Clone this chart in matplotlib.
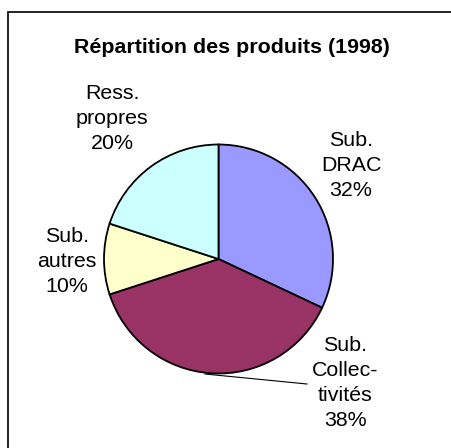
import matplotlib
matplotlib.use("Agg")
import matplotlib.pyplot as plt

title = "Répartition des produits (1998)"
labels = ["Sub.\nDRAC\n32%", "Sub.\nCollec-\ntivités\n38%", "Sub.\nautres\n10%", "Ress.\npropres\n20%"]
values = [32, 38, 10, 20]
colors = ["#9999FF", "#993366", "#FFFFCC", "#CCFFFF"]

plt.rcParams["font.family"] = ["Liberation Sans", "DejaVu Sans"]

W, H = 451, 448
fig = plt.figure(figsize=(W / 100, H / 100), dpi=100, facecolor="white")
ax = fig.add_axes([0, 0, 1, 1])

cx, cy, r = 218.5, H - 259, 114.5
ax.pie(values, colors=colors, startangle=90, counterclock=False,
       center=(cx, cy), radius=r,
       wedgeprops=dict(edgecolor="black", linewidth=1.3))
ax.set_xlim(0, W)
ax.set_ylim(0, H)
ax.set_aspect("auto")
ax.axis("off")

# frame (top and left edges visible)
ax.plot([8, 8, W + 5], [-5, H - 11.5, H - 11.5], color="black", lw=1.2,
        clip_on=False, solid_joinstyle="miter")

fs = 15.4
ax.text(232, H - 47, title, ha="center", va="center", fontsize=fs, fontweight="bold")

label_pos = [(351, H - 165), (345, H - 383), (67, H - 261), (112, H - 118)]
for lab, (x, y) in zip(labels, label_pos):
    ax.text(x, y, lab, ha="center", va="center", fontsize=fs, linespacing=1.4)

# leader line for Collectivités
ax.plot([205, 307], [H - 374, H - 384], color="black", lw=0.8)

fig.savefig("out.png", dpi=100, facecolor="white")
